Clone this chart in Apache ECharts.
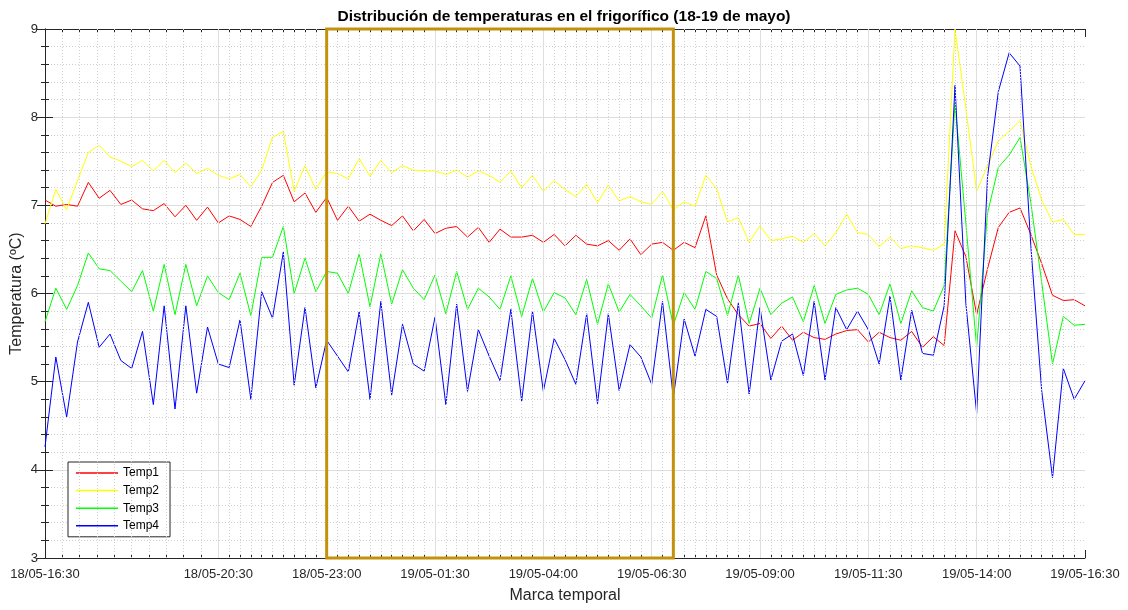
<!DOCTYPE html>
<html>
<head>
<meta charset="utf-8">
<title>Distribución de temperaturas en el frigorífico</title>
<script src="https://cdn.jsdelivr.net/npm/echarts@6/dist/echarts.min.js"></script>
<style>
  html, body { margin: 0; padding: 0; background: #ffffff; }
  #chart { width: 1128px; height: 610px; }
</style>
</head>
<body>
<div id="chart"></div>
<script>
// Time axis: minutes elapsed since 18/05 16:30, one reading every 15 minutes.
const sampleStepMinutes = 15;
const tickMinutes = [0, 240, 390, 540, 690, 840, 990, 1140, 1290, 1440];
const tickLabels = ['18/05-16:30', '18/05-20:30', '18/05-23:00', '19/05-01:30', '19/05-04:00',
                    '19/05-06:30', '19/05-09:00', '19/05-11:30', '19/05-14:00', '19/05-16:30'];

// Highlighted night window (23:00 – 07:00) over the full temperature range
const nightWindow = [390, 870];
const nightRange = [3, 9];

const seriesNames = ['Temp1', 'Temp2', 'Temp3', 'Temp4'];

const temp1 = [
  7.06, 6.99, 7.01, 6.99, 7.26, 7.08, 7.17, 7.01, 7.06, 6.96, 6.94, 7.02, 6.87, 7.00, 6.83, 6.98, 6.80,
  6.88, 6.84, 6.76, 6.99, 7.26, 7.34, 7.04, 7.14, 6.92, 7.09, 6.83, 6.99, 6.82, 6.90, 6.83, 6.77,
  6.88, 6.71, 6.84, 6.68, 6.74, 6.76, 6.64, 6.75, 6.58, 6.73, 6.64, 6.64, 6.66, 6.58, 6.67,
  6.54, 6.66, 6.56, 6.54, 6.60, 6.49, 6.62, 6.44, 6.56, 6.58, 6.49, 6.58, 6.52, 6.88, 6.21, 5.94,
  5.76, 5.63, 5.66, 5.49, 5.63, 5.47, 5.56, 5.50, 5.48, 5.54, 5.58, 5.59, 5.45, 5.56, 5.50, 5.47,
  5.57, 5.39, 5.51, 5.41, 6.71, 6.42, 5.76, 6.28, 6.75, 6.92, 6.97, 6.67, 6.34, 5.98, 5.92, 5.93, 5.86
];
const temp2 = [
  6.79, 7.18, 6.95, 7.28, 7.60, 7.68, 7.55, 7.50, 7.44, 7.51, 7.39, 7.51, 7.37, 7.48, 7.36, 7.42, 7.34,
  7.30, 7.35, 7.21, 7.40, 7.77, 7.84, 7.16, 7.45, 7.18, 7.38, 7.36, 7.30, 7.53, 7.33, 7.51, 7.37,
  7.45, 7.40, 7.39, 7.39, 7.35, 7.40, 7.32, 7.39, 7.34, 7.26, 7.39, 7.20, 7.34, 7.16, 7.28,
  7.18, 7.10, 7.24, 7.03, 7.23, 7.05, 7.10, 7.04, 7.01, 7.16, 6.95, 7.04, 6.99, 7.34, 7.19, 6.81,
  6.86, 6.58, 6.77, 6.60, 6.62, 6.65, 6.58, 6.68, 6.54, 6.69, 6.90, 6.69, 6.67, 6.53, 6.64, 6.51,
  6.54, 6.52, 6.49, 6.56, 9.00, 8.10, 7.16, 7.45, 7.73, 7.84, 7.96, 7.45, 7.06, 6.81, 6.84, 6.67, 6.67
];
const temp3 = [
  5.68, 6.06, 5.82, 6.09, 6.46, 6.28, 6.26, 6.14, 6.02, 6.26, 5.80, 6.33, 5.76, 6.33, 5.86, 6.20, 6.01,
  5.93, 6.23, 5.75, 6.41, 6.41, 6.76, 6.00, 6.40, 6.02, 6.25, 6.23, 6.00, 6.45, 5.85, 6.45, 5.88,
  6.27, 6.06, 5.93, 6.21, 5.77, 6.25, 5.82, 6.06, 5.96, 5.82, 6.20, 5.74, 6.17, 5.79, 6.01,
  5.95, 5.76, 6.16, 5.65, 6.11, 5.79, 5.99, 5.86, 5.72, 6.21, 5.64, 6.01, 5.82, 6.25, 6.17, 5.75,
  6.21, 5.66, 6.06, 5.76, 5.89, 5.96, 5.68, 6.09, 5.66, 5.99, 6.04, 6.06, 5.99, 5.76, 6.11, 5.66,
  6.03, 5.84, 5.80, 6.09, 8.16, 6.80, 5.39, 6.91, 7.43, 7.57, 7.77, 7.03, 6.13, 5.20, 5.74, 5.64, 5.65
];
const temp4 = [
  4.26, 5.28, 4.60, 5.45, 5.90, 5.39, 5.54, 5.24, 5.15, 5.57, 4.74, 5.86, 4.69, 5.86, 4.87, 5.62, 5.20,
  5.16, 5.70, 4.80, 6.02, 5.72, 6.47, 4.96, 5.84, 4.93, 5.47, 5.29, 5.11, 5.79, 4.80, 5.91, 4.85,
  5.65, 5.20, 5.12, 5.73, 4.74, 5.88, 4.89, 5.59, 5.29, 5.01, 5.82, 4.78, 5.80, 4.89, 5.49,
  5.25, 4.97, 5.77, 4.75, 5.77, 4.90, 5.42, 5.28, 4.97, 5.91, 4.82, 5.71, 5.29, 5.82, 5.74, 4.98,
  5.89, 4.86, 5.84, 5.02, 5.46, 5.54, 5.07, 5.91, 5.02, 5.84, 5.59, 5.80, 5.59, 5.20, 5.97, 5.02,
  5.81, 5.32, 5.30, 5.86, 8.36, 5.89, 4.64, 7.32, 8.29, 8.73, 8.58, 6.54, 4.90, 3.91, 5.15, 4.80, 5.01
];

const lineColors = ['#ff0000', '#ffff00', '#00ff00', '#0000ff'];
const axisInk = '#262626';
const font = '"Liberation Sans", Arial, Helvetica, sans-serif';

// Minor grid positions: each major interval split into 10 parts.
const minorMinutes = [];
for (let k = 0; k < tickMinutes.length - 1; k++) {
  const a = tickMinutes[k], b = tickMinutes[k + 1];
  for (let j = 1; j < 10; j++) minorMinutes.push(a + (b - a) * j / 10);
}

const toPairs = values => values.map((v, i) => [i * sampleStepMinutes, v]);
const tickLabel = v => {
  const idx = tickMinutes.indexOf(Math.round(v));
  return idx >= 0 ? tickLabels[idx] : '';
};

const baseX = {
  type: 'value', min: 0, max: 1440, gridIndex: 0,
  splitLine: { show: false }
};

const xAxes = [
  Object.assign({}, baseX, {
    position: 'bottom',
    axisLine: { show: true, lineStyle: { color: axisInk, width: 1 } },
    axisTick: { show: true, inside: true, length: 8, customValues: tickMinutes, lineStyle: { color: axisInk } },
    axisLabel: { show: true, customValues: tickMinutes, formatter: tickLabel, margin: 10,
                 color: axisInk, fontSize: 13, fontFamily: font, hideOverlap: false },
    name: 'Marca temporal', nameLocation: 'middle', nameGap: 30, nameMoveOverlap: false,
    nameTextStyle: { color: axisInk, fontSize: 16, fontFamily: font }
  }),
  Object.assign({}, baseX, {
    position: 'bottom',
    axisLine: { show: false },
    axisTick: { show: true, inside: true, length: 4, customValues: minorMinutes, lineStyle: { color: axisInk } },
    axisLabel: { show: false }
  }),
  Object.assign({}, baseX, {
    position: 'top',
    axisLine: { show: true, lineStyle: { color: axisInk, width: 1 } },
    axisTick: { show: true, inside: true, length: 8, customValues: tickMinutes, lineStyle: { color: axisInk } },
    axisLabel: { show: false }
  }),
  Object.assign({}, baseX, {
    position: 'top',
    axisLine: { show: false },
    axisTick: { show: true, inside: true, length: 4, customValues: minorMinutes, lineStyle: { color: axisInk } },
    axisLabel: { show: false }
  })
];

const baseY = {
  type: 'value', min: 3, max: 9, interval: 1, gridIndex: 0,
  axisLine: { show: true, lineStyle: { color: axisInk, width: 1 } },
  axisTick: { show: true, inside: true, length: 8, lineStyle: { color: axisInk } },
  minorTick: { show: true, splitNumber: 5, length: 4, lineStyle: { color: axisInk } }
};

const yAxes = [
  Object.assign({}, baseY, {
    position: 'left',
    axisLabel: { color: axisInk, fontSize: 13, fontFamily: font, margin: 7 },
    splitLine: { show: true, lineStyle: { color: '#dedede', width: 1 } },
    minorSplitLine: { show: true, lineStyle: { color: '#cfcfcf', width: 1, type: [1, 2] } },
    name: 'Temperatura (ºC)', nameLocation: 'middle', nameGap: 20, nameRotate: 90, nameMoveOverlap: false,
    nameTextStyle: { color: axisInk, fontSize: 16, fontFamily: font }
  }),
  Object.assign({}, baseY, {
    position: 'right',
    axisLabel: { show: false },
    splitLine: { show: false },
    minorSplitLine: { show: false }
  })
];

const gridLine = (values, style) => ({
  type: 'line', data: [], xAxisIndex: 0, yAxisIndex: 0, z: 0, silent: true,
  markLine: {
    silent: true, symbol: ['none', 'none'], label: { show: false }, animation: false,
    lineStyle: style,
    data: values.map(v => ({ xAxis: v }))
  }
});

const series = [
  gridLine(minorMinutes, { color: '#cfcfcf', width: 1, type: [1, 2] }),
  gridLine(tickMinutes.slice(1, -1), { color: '#dedede', width: 1, type: 'solid' })
].concat([temp1, temp2, temp3, temp4].map((values, k) => ({
  name: seriesNames[k],
  type: 'line',
  data: toPairs(values),
  xAxisIndex: 0, yAxisIndex: 0,
  symbol: 'none', showSymbol: false,
  z: 3,
  color: lineColors[k],
  lineStyle: { color: lineColors[k], width: 1 }
}))).concat([{
  // outline of the night window, drawn on top of the curves
  type: 'custom',
  xAxisIndex: 0, yAxisIndex: 0, z: 10, silent: true, clip: false,
  data: [[nightWindow[0], nightRange[0], nightWindow[1], nightRange[1]]],
  encode: { x: [0, 2], y: [1, 3] },
  renderItem: (params, api) => {
    const p0 = api.coord([api.value(0), api.value(3)]);
    const p1 = api.coord([api.value(2), api.value(1)]);
    return {
      type: 'rect',
      shape: { x: p0[0], y: p0[1], width: p1[0] - p0[0], height: p1[1] - p0[1] },
      style: { fill: 'none', stroke: '#c4920a', lineWidth: 3 }
    };
  }
}]);

const chart = echarts.init(document.getElementById('chart'), null, { renderer: 'canvas' });
chart.setOption({
  animation: false,
  backgroundColor: '#ffffff',
  textStyle: { fontFamily: font },
  title: {
    text: 'Distribución de temperaturas en el frigorífico (18-19 de mayo)',
    left: 'center', top: 4,
    textStyle: { fontSize: 15.5, fontWeight: 'bold', color: '#000000', fontFamily: font }
  },
  grid: { left: 45, right: 43, top: 29, bottom: 52, containLabel: false, outerBoundsMode: 'none' },
  legend: {
    data: seriesNames,
    orient: 'vertical',
    left: 68, top: 462,
    icon: 'rect', itemWidth: 42, itemHeight: 1.5, itemGap: 3.6,
    padding: [4, 11, 4, 8],
    backgroundColor: '#ffffff',
    borderColor: axisInk, borderWidth: 1, borderRadius: 0,
    textStyle: { fontSize: 12, color: '#000000', fontFamily: font, lineHeight: 14 }
  },
  xAxis: xAxes,
  yAxis: yAxes,
  series: series
});
</script>
</body>
</html>
